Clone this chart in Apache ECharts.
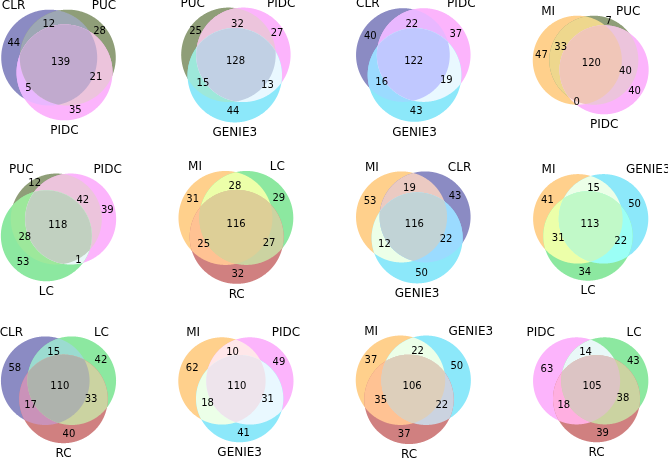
<!DOCTYPE html>
<html><head><meta charset="utf-8">
<script src="https://cdn.jsdelivr.net/npm/echarts@6/dist/echarts.min.js"></script>
<style>html,body{margin:0;padding:0;background:#fff}#c{width:668px;height:459px}</style>
</head><body><div id="c"></div>
<script>
// ---- data (one entry per panel, reading order) ----
const setA = ['CLR','PUC','CLR','MI','PUC','MI','MI','MI','CLR','MI','MI','PIDC'];
const setB = ['PUC','PIDC','PIDC','PUC','PIDC','LC','CLR','GENIE3','LC','PIDC','GENIE3','LC'];
const setC = ['PIDC','GENIE3','GENIE3','PIDC','LC','RC','GENIE3','LC','RC','GENIE3','RC','RC'];
const onlyA  = [44,25,40,47,12,31,53,41,58,62,37,63];
const onlyB  = [28,27,37, 7,39,29,43,50,42,49,50,43];
const onlyAB = [12,32,22,33,42,28,19,15,15,10,22,14];
const onlyC  = [35,44,43,40,53,32,50,34,40,41,37,39];
const onlyAC = [ 5,15,16, 0,28,25,12,31,17,18,35,18];
const onlyBC = [21,13,19,40, 1,27,22,22,33,31,22,38];
const allABC = [139,128,122,120,118,116,116,113,110,110,106,105];

// ---- style ----
const ALPHA = 0.6;
const baseColor = {CLR:[62,62,155], PUC:[68,93,30], PIDC:[250,130,250], GENIE3:[63,217,247],
                   MI:[255,177,63], LC:[63,217,97], RC:[177,43,43]};
const CELL_W = 134.8, CELL_H = 134.8;
const colX = [58.5, 235.9, 413.3, 590.7];
const rowY = [65, 227.4, 389.8];
const W = 668, H = 459;
const FONT = 'DejaVu Sans';
const NUM_SIZE = 10, NAME_SIZE = 12;

function lensArea(r1, r2, d) {
  if (d >= r1 + r2) return 0;
  if (d <= Math.abs(r1 - r2)) return Math.PI * Math.min(r1, r2) ** 2;
  const a1 = Math.acos((d*d + r1*r1 - r2*r2) / (2*d*r1));
  const a2 = Math.acos((d*d + r2*r2 - r1*r1) / (2*d*r2));
  return r1*r1*a1 + r2*r2*a2 - 0.5*Math.sqrt((-d+r1+r2)*(d+r1-r2)*(d-r1+r2)*(d+r1+r2));
}
function distByArea(r1, r2, a) {
  let lo = Math.abs(r1 - r2), hi = r1 + r2;
  for (let k = 0; k < 200; k++) {
    const m = (lo + hi) / 2;
    if (lensArea(r1, r2, m) > a) lo = m; else hi = m;
  }
  return (lo + hi) / 2;
}
function toCss(c) { return 'rgb(' + c.map(v => Math.round(255*(1-ALPHA) + ALPHA*Math.min(255, v))).join(',') + ')'; }
function mix(cols, f) { return [0,1,2].map(k => Math.min(255, f * cols.reduce((s, c) => s + c[k], 0))); }
function circleX(a, b) {
  const dx = b.x - a.x, dy = b.y - a.y, d = Math.hypot(dx, dy);
  if (d >= a.r + b.r || d <= Math.abs(a.r - b.r)) return [];
  const l = (a.r*a.r - b.r*b.r + d*d) / (2*d), h = Math.sqrt(Math.max(0, a.r*a.r - l*l));
  const mx = a.x + l*dx/d, my = a.y + l*dy/d;
  return [[mx - h*dy/d, my + h*dx/d], [mx + h*dy/d, my - h*dx/d]];
}
function codeAt(C, x, y, skip) {
  let code = 0;
  C.forEach((c, k) => { if (k !== skip && (x-c.x)**2 + (y-c.y)**2 < c.r*c.r) code |= (1 << k); });
  return code;
}
function intersectPoly(circles) {
  const pts = [];
  const NS = 720;
  circles.forEach((c, i) => {
    for (let k = 0; k < NS; k++) {
      const t = 2*Math.PI*k/NS;
      const x = c.x + c.r*Math.cos(t), y = c.y + c.r*Math.sin(t);
      if (circles.every((o, j) => j === i || (x-o.x)**2 + (y-o.y)**2 <= o.r*o.r*(1+1e-9))) pts.push([x, y]);
    }
  });
  for (let i = 0; i < circles.length; i++) for (let j = i+1; j < circles.length; j++) {
    circleX(circles[i], circles[j]).forEach(p => {
      if (circles.every(o => (p[0]-o.x)**2 + (p[1]-o.y)**2 <= o.r*o.r*(1+1e-6))) pts.push(p);
    });
  }
  if (pts.length < 3) return null;
  const cx = pts.reduce((s, p) => s + p[0], 0) / pts.length;
  const cy = pts.reduce((s, p) => s + p[1], 0) / pts.length;
  pts.sort((p, q) => Math.atan2(p[1]-cy, p[0]-cx) - Math.atan2(q[1]-cy, q[0]-cx));
  return pts;
}

const grids = [], xAxes = [], yAxes = [], series = [];
for (let i = 0; i < setA.length; i++) {
  const counts = [onlyA[i], onlyB[i], onlyAB[i], onlyC[i], onlyAC[i], onlyBC[i], allABC[i]];
  const tot = counts.reduce((s, v) => s + v, 0);
  const Aa = (onlyA[i] + onlyAB[i] + onlyAC[i] + allABC[i]) / tot;
  const Ab = (onlyB[i] + onlyAB[i] + onlyBC[i] + allABC[i]) / tot;
  const Ac = (onlyC[i] + onlyAC[i] + onlyBC[i] + allABC[i]) / tot;
  const Aab = (onlyAB[i] + allABC[i]) / tot, Abc = (onlyBC[i] + allABC[i]) / tot, Aac = (onlyAC[i] + allABC[i]) / tot;
  const r = [Aa, Ab, Ac].map(a => Math.sqrt(a / Math.PI));
  const dists = [distByArea(r[0], r[1], Aab), distByArea(r[1], r[2], Abc), distByArea(r[2], r[0], Aac)];
  for (let k = 0; k < 3; k++) {
    const j = (k+1)%3, m = (k+2)%3;
    if (dists[k] > dists[j] + dists[m]) {
      const [a, b] = dists[j] < dists[m] ? [j, m] : [m, j];
      dists[k] = dists[b] + dists[a]*0.8;
    }
  }
  const [dab, dbc, dac] = dists;
  const Cx = (dac*dac - dbc*dbc + dab*dab) / (2*dab);
  const Cy = -Math.sqrt(Math.max(0, dac*dac - Cx*Cx));
  let P = [[0,0],[dab,0],[Cx,Cy]];
  const w = r.map(v => v*v), sw = w[0]+w[1]+w[2];
  const mx = (w[0]*P[0][0] + w[1]*P[1][0] + w[2]*P[2][0]) / sw;
  const my = (w[0]*P[0][1] + w[1]*P[1][1] + w[2]*P[2][1]) / sw;
  P = P.map(p => [p[0]-mx, p[1]-my]);
  const C = P.map((p, k) => ({x: p[0], y: p[1], r: r[k]}));

  const minX = Math.min(...C.map(c => c.x - c.r)), maxX = Math.max(...C.map(c => c.x + c.r));
  const minY = Math.min(...C.map(c => c.y - c.r)), maxY = Math.max(...C.map(c => c.y + c.r));
  const bw = maxX - minX + 0.2, bh = maxY - minY + 0.2;
  const s = Math.min(CELL_W / bw, CELL_H / bh);
  const xc = (minX + maxX) / 2, yc = (minY + maxY) / 2;
  const col = i % 4, row = Math.floor(i / 4);
  const cpx = colX[col], cpy = rowY[row];
  const L = Math.max(0, cpx - 86), R = Math.min(W, cpx + 86);
  const T = Math.max(0, cpy - 80), B = Math.min(H, cpy + 80);
  grids.push({left: L, top: T, width: R - L, height: B - T, containLabel: false, outerBoundsMode: 'none'});
  xAxes.push({type: 'value', gridIndex: i, min: xc - (cpx - L)/s, max: xc + (R - cpx)/s, show: false, scale: true});
  yAxes.push({type: 'value', gridIndex: i, min: yc - (B - cpy)/s, max: yc + (cpy - T)/s, show: false, scale: true});

  const names = [setA[i], setB[i], setC[i]];
  const cols = names.map(n => baseColor[n]);
  const layers = [];
  [0,1,2].forEach(k => layers.push({kind:'poly', pts: intersectPoly([C[k]]), color: toCss(cols[k])}));
  [[0,1],[0,2],[1,2]].forEach(([a, b]) => {
    const pts = intersectPoly([C[a], C[b]]);
    if (pts) layers.push({kind:'poly', pts, color: toCss(mix([cols[a], cols[b]], 0.7))});
  });
  const tri = intersectPoly(C);
  if (tri) layers.push({kind:'poly', pts: tri, color: toCss(mix(cols, 0.4))});

  // region label positions: arc-length weighted mean of the region's boundary arc midpoints
  const acc = {};
  C.forEach((c, k) => {
    const angs = [];
    C.forEach((o, j) => { if (j !== k) circleX(c, o).forEach(p => angs.push(Math.atan2(p[1]-c.y, p[0]-c.x))); });
    angs.sort((a, b) => a - b);
    const segs = angs.length ? angs.map((a, n) => [a, n + 1 < angs.length ? angs[n+1] : angs[0] + 2*Math.PI]) : [[0, 2*Math.PI]];
    segs.forEach(([a1, a2]) => {
      const am = (a1 + a2) / 2, len = (a2 - a1) * c.r;
      const px = c.x + c.r*Math.cos(am), py = c.y + c.r*Math.sin(am);
      const other = codeAt(C, px, py, k);
      [other | (1 << k), other].forEach(code => {
        if (!code) return;
        const e = acc[code] || (acc[code] = {sx: 0, sy: 0, sl: 0});
        e.sx += px*len; e.sy += py*len; e.sl += len;
      });
    });
  });
  const best = {};
  const step = Math.min(...r) / 60;
  for (let x = minX; x <= maxX; x += step) for (let y = minY; y <= maxY; y += step) {
    const code = codeAt(C, x, y, -1);
    if (!code) continue;
    const dmin = Math.min(...C.map(c => Math.abs(Math.hypot(x - c.x, y - c.y) - c.r)));
    if (!best[code] || dmin > best[code].d) best[code] = {x, y, d: dmin};
  }
  for (let code = 1; code <= 7; code++) {
    const e = acc[code];
    if (!e || e.sl <= 0) continue;
    let lx = e.sx / e.sl, ly = e.sy / e.sl;
    if (codeAt(C, lx, ly, -1) !== code && best[code]) { lx = best[code].x; ly = best[code].y; }
    layers.push({kind:'text', x: lx, y: ly, text: String(counts[code-1]), size: NUM_SIZE, align: 'center', va: 'middle', dy: 0});
  }
  layers.push({kind:'text', x: C[0].x - C[0].r/2, y: C[0].y + C[0].r, text: names[0], size: NAME_SIZE, align: 'right', va: 'bottom', dy: 2});
  layers.push({kind:'text', x: C[1].x + C[1].r/2, y: C[1].y + C[1].r, text: names[1], size: NAME_SIZE, align: 'left', va: 'bottom', dy: 2});
  layers.push({kind:'text', x: C[2].x, y: C[2].y - 1.1*C[2].r, text: names[2], size: NAME_SIZE, align: 'center', va: 'top', dy: 0});

  series.push({
    type: 'custom', coordinateSystem: 'cartesian2d', xAxisIndex: i, yAxisIndex: i, clip: false, silent: true,
    data: layers.map(Lr => Lr.kind === 'text' ? [Lr.x, Lr.y] : [Lr.pts[0][0], Lr.pts[0][1]]),
    renderItem: function (params, api) {
      const Lr = layers[params.dataIndex];
      if (Lr.kind === 'poly') {
        return {type: 'polygon', shape: {points: Lr.pts.map(p => api.coord(p))}, style: {fill: Lr.color, stroke: null}};
      }
      const p = api.coord([Lr.x, Lr.y]);
      return {type: 'text', x: p[0], y: p[1] + Lr.dy,
              style: {text: Lr.text, fill: '#000', fontSize: Lr.size, fontFamily: FONT,
                      align: Lr.align, verticalAlign: Lr.va, textAlign: Lr.align, textVerticalAlign: Lr.va}};
    }
  });
}

const chart = echarts.init(document.getElementById('c'), null, {renderer: 'canvas'});
chart.setOption({animation: false, backgroundColor: '#fff', grid: grids, xAxis: xAxes, yAxis: yAxes, series});
</script></body></html>
